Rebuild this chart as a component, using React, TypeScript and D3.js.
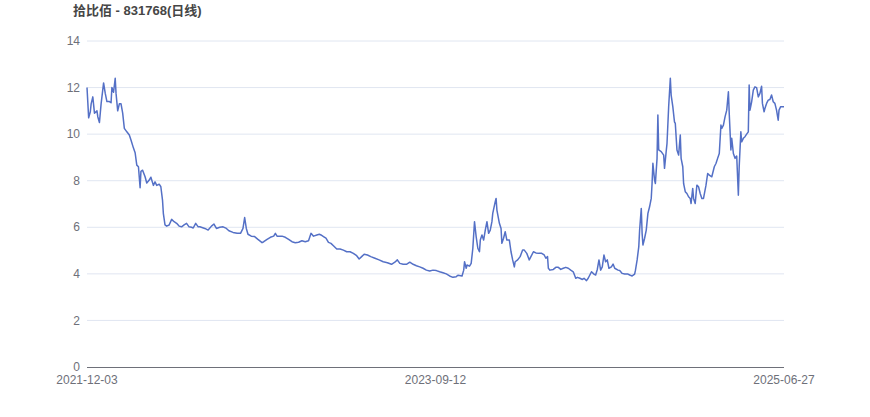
import React from "react";
import * as d3 from "d3";

const title = "拾比佰 - 831768(日线)";
const yTicks = [0, 2, 4, 6, 8, 10, 12, 14];
const xTickIndex = [0, 420, 840];
const xTickLabels = ["2021-12-03", "2023-09-12", "2025-06-27"];

// trading-day index (from 2021-12-03) of each sampled point
const days = [
  0, 2, 4, 5, 7, 9, 12, 13, 15, 17, 20, 22, 24, 27, 29, 30, 32, 34, 35, 37, 39, 41, 43, 45, 48, 51, 53, 56, 58, 60,
  62, 64, 65, 67, 70, 72, 75, 77, 80, 82, 84, 87, 89, 91, 92, 94, 96, 99, 102, 105, 108, 111, 114, 117, 120, 123, 126, 128, 131, 134,
  136, 142, 146, 150, 153, 156, 160, 164, 168, 171, 176, 181, 185, 188, 190, 192, 194, 198, 202, 206, 211, 213, 217, 221, 225, 227, 229, 235, 239, 243,
  247, 251, 255, 259, 263, 267, 270, 273, 277, 280, 282, 285, 288, 291, 294, 297, 301, 305, 309, 313, 317, 321, 325, 328, 331, 334, 338, 342, 347, 352,
  357, 362, 367, 371, 374, 377, 381, 385, 389, 393, 397, 401, 405, 409, 413, 417, 421, 425, 429, 433, 437, 441, 445, 447, 452, 454, 455, 457, 458, 461,
  463, 465, 467, 469, 471, 473, 474, 476, 478, 480, 482, 484, 486, 488, 489, 492, 493, 494, 497, 499, 500, 502, 504, 506, 509, 511, 513, 515, 516, 519,
  522, 525, 527, 530, 533, 535, 538, 541, 544, 548, 551, 553, 555, 556, 558, 562, 565, 568, 571, 574, 577, 580, 583, 586, 589, 591, 594, 597, 599, 602,
  604, 606, 608, 611, 613, 615, 617, 619, 621, 623, 625, 627, 629, 632, 634, 636, 640, 642, 645, 648, 652, 654, 657, 660, 661, 663, 665, 666, 668, 669,
  670, 672, 674, 676, 678, 680, 681, 682, 684, 685, 687, 688, 689, 692, 695, 696, 698, 699, 701, 703, 704, 706, 708, 709, 711, 713, 715, 716, 718, 719,
  721, 723, 725, 727, 728, 730, 731, 733, 735, 737, 739, 741, 743, 746, 748, 750, 753, 756, 758, 760, 762, 764, 765, 767, 769, 771, 773, 774, 776, 777,
  779, 781, 783, 785, 786, 788, 789, 791, 793, 795, 797, 798, 799, 801, 803, 805, 807, 809, 811, 813, 814, 816, 817, 819, 821, 823, 825, 827, 829, 831,
  833, 834, 836, 840,
];

// closing price at each sampled day
const prices = [
  12.0, 10.7, 10.96, 11.3, 11.6, 10.9, 11.0, 10.75, 10.5, 11.3, 12.2, 11.75, 11.4, 11.4, 11.35, 12.0, 11.8, 12.4, 11.75, 11.0, 11.3, 11.3, 10.9, 10.25, 10.1, 9.96, 9.75, 9.4, 9.2, 8.67,
  8.6, 7.7, 8.4, 8.45, 8.17, 7.9, 8.03, 8.15, 7.8, 7.95, 7.8, 7.85, 7.74, 7.17, 6.6, 6.1, 6.05, 6.1, 6.34, 6.24, 6.17, 6.05, 6.02, 6.1, 6.17, 6.02, 6.0, 5.97, 6.17, 6.02,
  6.02, 5.95, 5.88, 6.05, 6.14, 5.95, 6.0, 6.02, 5.95, 5.85, 5.78, 5.74, 5.74, 5.95, 6.42, 5.95, 5.7, 5.62, 5.6, 5.48, 5.34, 5.38, 5.48, 5.57, 5.62, 5.74, 5.62, 5.62, 5.57, 5.48,
  5.38, 5.34, 5.36, 5.42, 5.38, 5.42, 5.74, 5.62, 5.67, 5.7, 5.67, 5.6, 5.53, 5.35, 5.31, 5.21, 5.07, 5.07, 5.02, 4.95, 4.95, 4.88, 4.78, 4.64, 4.74, 4.84, 4.81, 4.74, 4.67, 4.6,
  4.52, 4.48, 4.41, 4.5, 4.6, 4.45, 4.41, 4.41, 4.5, 4.41, 4.35, 4.3, 4.24, 4.16, 4.12, 4.16, 4.14, 4.09, 4.05, 4.0, 3.91, 3.85, 3.88, 3.94, 3.91, 4.16, 4.52, 4.24, 4.38, 4.33,
  4.45, 5.1, 6.24, 5.6, 5.1, 4.95, 5.45, 5.67, 5.45, 5.88, 6.24, 5.74, 5.88, 6.24, 6.6, 7.1, 7.24, 6.74, 6.17, 5.95, 5.31, 5.53, 5.81, 5.45, 5.45, 4.95, 4.6, 4.3, 4.52, 4.6,
  4.74, 5.02, 5.02, 4.88, 4.6, 4.74, 4.95, 4.9, 4.88, 4.88, 4.81, 4.67, 4.74, 4.24, 4.16, 4.19, 4.28, 4.28, 4.19, 4.24, 4.28, 4.24, 4.16, 4.09, 3.81, 3.85, 3.81, 3.76, 3.81, 3.71,
  3.81, 3.95, 4.09, 3.99, 3.95, 4.19, 4.6, 4.16, 4.3, 4.81, 4.52, 4.6, 4.24, 4.3, 4.42, 4.24, 4.16, 4.14, 4.02, 3.99, 3.99, 3.95, 3.91, 3.99, 4.16, 4.6, 5.17, 5.88, 6.81, 5.74,
  5.24, 5.53, 5.88, 6.6, 6.88, 7.24, 7.88, 8.75, 8.03, 7.88, 8.96, 10.82, 9.32, 9.25, 9.1, 8.53, 9.25, 9.6, 11.18, 12.4, 11.68, 11.18, 10.53, 10.46, 9.32, 9.1, 9.96, 8.96, 8.6, 7.88,
  7.53, 7.45, 7.31, 7.24, 7.02, 7.67, 7.24, 7.02, 7.81, 7.74, 7.45, 7.24, 7.24, 7.81, 8.31, 8.24, 8.17, 8.6, 8.74, 8.96, 9.17, 10.39, 10.25, 10.39, 10.75, 11.03, 11.82, 10.89, 9.32, 9.82,
  9.17, 8.96, 9.06, 7.38, 8.6, 10.1, 9.67, 9.82, 9.89, 10.0, 10.1, 12.11, 11.03, 11.39, 11.89, 12.03, 12.0, 11.6, 11.75, 12.06, 11.32, 10.96, 11.1, 11.32, 11.46, 11.49, 11.68, 11.39, 11.32, 11.03,
  10.6, 11.03, 11.18, 11.18,
];

const W = 870;
const H = 417;
const left = 87;
const right = 784;
const top = 41;
const bottom = 367;
const font = "'Liberation Sans', Arial, 'Noto Sans CJK SC', sans-serif";

export default function App() {
  const x = d3.scaleLinear().domain([0, 840]).range([left, right]);
  const y = d3.scaleLinear().domain([0, 14]).range([bottom, top]);
  const pts = days.map((d, i) => [d, prices[i]] as [number, number]);
  const line = d3
    .line<[number, number]>()
    .x((d) => x(d[0]))
    .y((d) => y(d[1]));

  return (
    <svg
      width={W}
      height={H}
      style={{ position: "absolute", left: 0, top: 0, background: "#fff" }}
      fontFamily={font}
    >
      <text x={73} y={15} fontSize={13} fontWeight="bold" fill="#464646">
        {title}
      </text>
      {yTicks.map((t) => (
        <g key={t}>
          {t !== 0 && (
            <line x1={left} x2={right} y1={y(t)} y2={y(t)} stroke="#e0e6f1" strokeWidth={1} />
          )}
          <text x={80} y={y(t)} dy="0.35em" textAnchor="end" fontSize={12} fill="#6e7079">
            {t}
          </text>
        </g>
      ))}
      <line x1={left} x2={right} y1={bottom + 0.5} y2={bottom + 0.5} stroke="#6e7079" strokeWidth={1} />
      {xTickIndex.map((d, i) => (
        <text key={d} x={x(d)} y={bottom + 17} textAnchor="middle" fontSize={12} fill="#6e7079">
          {xTickLabels[i]}
        </text>
      ))}
      <path d={line(pts) || ""} fill="none" stroke="#5470c6" strokeWidth={1.5} strokeLinejoin="round" />
    </svg>
  );
}
